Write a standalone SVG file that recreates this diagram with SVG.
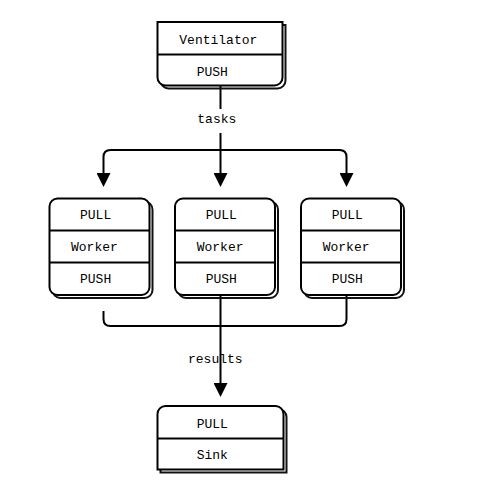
<svg xmlns="http://www.w3.org/2000/svg" width="477" height="495" viewBox="0 0 477 495">
<style>
.bg{fill:#fff}
.box{fill:#fff;stroke:#000;stroke-width:2}
.shadow{fill:none;stroke:#111;stroke-width:2}
.div{stroke:#000;stroke-width:2;fill:none}
.t{font-family:"Liberation Mono","DejaVu Sans Mono",monospace;font-size:13px;fill:#000}
.c{fill:none;stroke:#000;stroke-width:2}
</style>
<defs>
<marker id="ah" viewBox="0 0 14 14" refX="0" refY="7" markerWidth="14" markerHeight="14" markerUnits="userSpaceOnUse" orient="auto">
<path d="M0,0 L14,7 L0,14 Z" fill="#000"/>
</marker>
<path id="wk" d="M8,0 H92 A8,8 0 0 1 100,8 V88.5 A8,8 0 0 1 92,96.5 H8 A8,8 0 0 1 0,88.5 V8 A8,8 0 0 1 8,0 Z"/>
</defs>
<rect class="bg" x="0" y="0" width="477" height="495"/>

<g id="connectors">
<path class="c" d="M220.5,86 V109"/>
<path class="c" d="M220.5,133 V173" marker-end="url(#ah)"/>
<path class="c" d="M220.5,150 H110.5 Q103.5,150 103.5,157 V173" marker-end="url(#ah)"/>
<path class="c" d="M220.5,150 H339.5 Q346.5,150 346.5,157 V173" marker-end="url(#ah)"/>
<path class="c" d="M103.5,311 V319 Q103.5,326 110.5,326 H339.5 Q346.5,326 346.5,319 V295"/>
<path class="c" d="M220.5,296 V383" marker-end="url(#ah)"/>
<text class="t" x="197.3" y="122.5">tasks</text>
<text class="t" x="188" y="362.5">results</text>
</g>

<g id="ventilator">
<path class="shadow" transform="translate(3,3)" d="M157.5,22 H282.5 V77.5 A8,8 0 0 1 274.5,85.5 H165.5 A8,8 0 0 1 157.5,77.5 Z"/>
<path class="box" d="M157.5,22 H282.5 V77.5 A8,8 0 0 1 274.5,85.5 H165.5 A8,8 0 0 1 157.5,77.5 Z"/>
<path class="div" d="M157.5,54.5 H282.5"/>
<text class="t" x="179.3" y="43.5">Ventilator</text>
<text class="t" x="196.7" y="75.5">PUSH</text>
</g>

<g id="worker1">
<use href="#wk" class="shadow" transform="translate(52.5,201.5)"/>
<use href="#wk" class="box" transform="translate(49.5,198.5)"/>
<path class="div" d="M49.5,230.5 H149.5 M49.5,262.5 H149.5"/>
<text class="t" x="80" y="218.5">PULL</text>
<text class="t" x="71" y="250.5">Worker</text>
<text class="t" x="80" y="282.5">PUSH</text>
</g>

<g id="worker2">
<use href="#wk" class="shadow" transform="translate(178,201.5)"/>
<use href="#wk" class="box" transform="translate(175,198.5)"/>
<path class="div" d="M175,230.5 H275 M175,262.5 H275"/>
<text class="t" x="205.7" y="218.5">PULL</text>
<text class="t" x="196.7" y="250.5">Worker</text>
<text class="t" x="205.7" y="282.5">PUSH</text>
</g>

<g id="worker3">
<use href="#wk" class="shadow" transform="translate(304,201.5)"/>
<use href="#wk" class="box" transform="translate(301,198.5)"/>
<path class="div" d="M301,230.5 H401 M301,262.5 H401"/>
<text class="t" x="331.7" y="218.5">PULL</text>
<text class="t" x="322.7" y="250.5">Worker</text>
<text class="t" x="331.7" y="282.5">PUSH</text>
</g>

<g id="sink">
<path class="shadow" transform="translate(3,3)" d="M165.5,406 H275.5 A8,8 0 0 1 283.5,414 V469.5 H157.5 V414 A8,8 0 0 1 165.5,406 Z"/>
<path class="box" d="M165.5,406 H275.5 A8,8 0 0 1 283.5,414 V469.5 H157.5 V414 A8,8 0 0 1 165.5,406 Z"/>
<path class="div" d="M157.5,438.5 H283.5"/>
<text class="t" x="196.7" y="427.8">PULL</text>
<text class="t" x="196.7" y="458.5">Sink</text>
</g>
</svg>
